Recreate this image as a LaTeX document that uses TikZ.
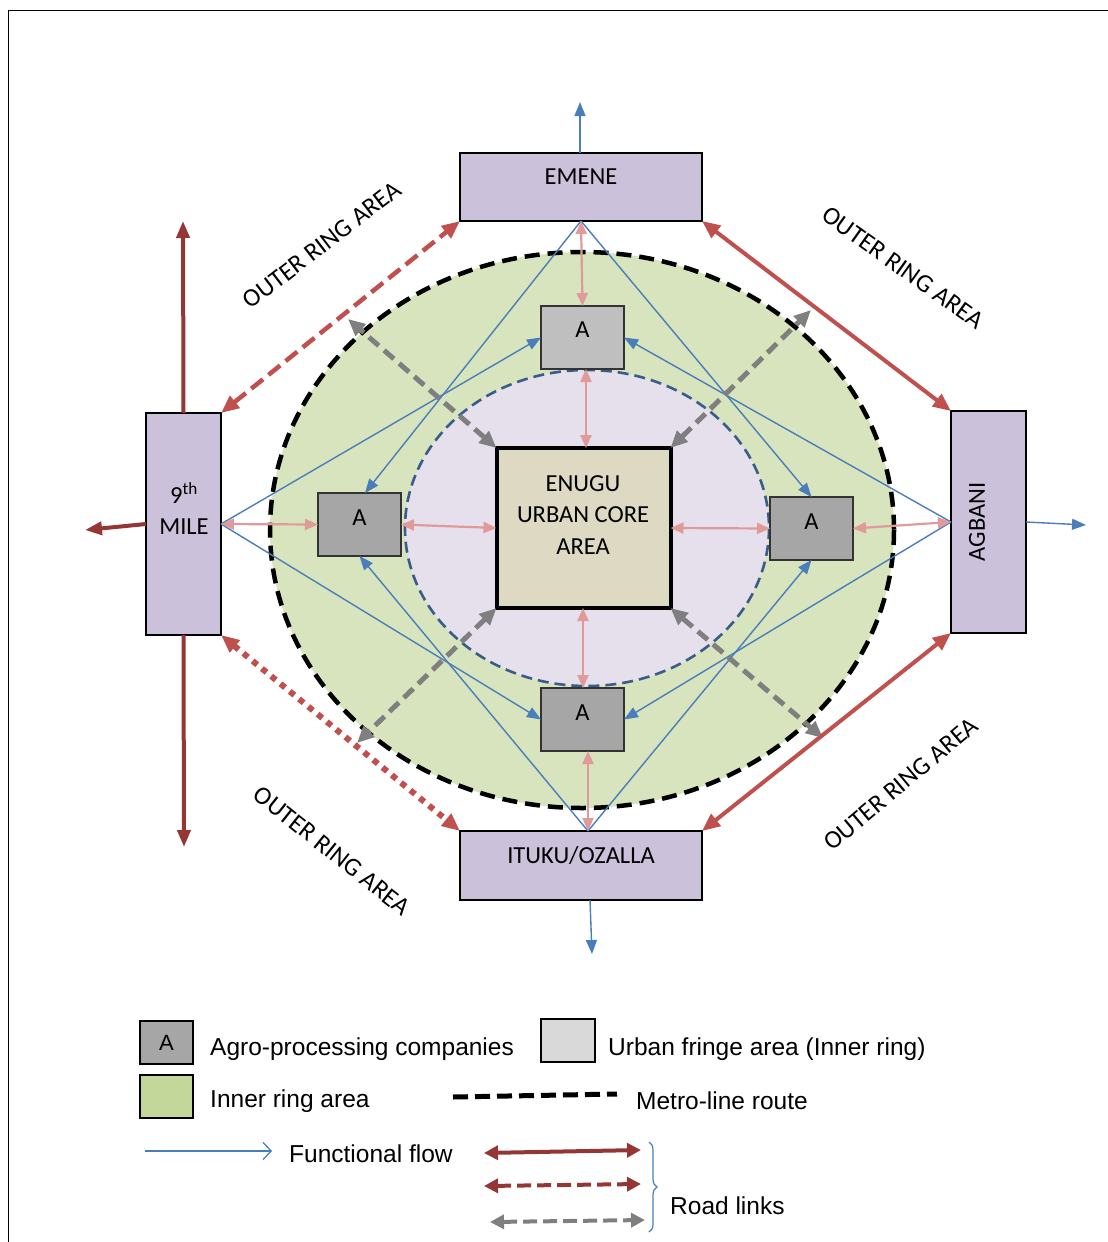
\documentclass[tikz,border=0pt]{standalone}
\usepackage{fontspec}
\setmainfont{Carlito}
\newfontfamily\legfont{Liberation Sans}
\usetikzlibrary{arrows.meta,decorations.pathreplacing}
\definecolor{lav}{HTML}{CCC1DA}
\definecolor{ringgreen}{HTML}{D7E4BD}
\definecolor{innerlav}{HTML}{E6E0EC}
\definecolor{corefill}{HTML}{DDD9C3}
\definecolor{flowblue}{HTML}{4A7EBB}
\definecolor{pinkar}{HTML}{E09A9A}
\definecolor{roadred}{HTML}{C0504D}
\definecolor{darkred}{HTML}{943634}
\definecolor{grayar}{HTML}{7F7F7F}
\definecolor{dashblue}{HTML}{385D8A}
\definecolor{agro}{HTML}{A6A6A6}
\definecolor{fringe}{HTML}{BFBFBF}
\definecolor{legfringe}{HTML}{D9D9D9}
\definecolor{leggreen}{HTML}{C4D79B}
\begin{document}
\begin{tikzpicture}[x=1pt,y=-1pt,
  place/.style={draw=black,line width=1.6pt,fill=lav,inner sep=0pt,outer sep=0pt},
  abox/.style={draw=black!80,line width=1.2pt,fill=agro,minimum width=83pt,minimum height=63pt,inner sep=0pt,outer sep=0pt},
  lbl/.style={font=\fontsize{24.5}{28}\selectfont,inner sep=0pt},
  ring/.style={font=\fontsize{25.5}{28}\selectfont,inner sep=0pt},
  leg/.style={font=\legfont\fontsize{24.5}{28}\selectfont,anchor=west,inner sep=0pt},
  flow/.style={draw=flowblue,line width=1.4pt,-{Triangle[length=14pt,width=11pt]}},
  pink/.style={draw=pinkar,line width=2.2pt,{Triangle[length=13pt,width=11pt]}-{Triangle[length=13pt,width=11pt]}},
  road/.style={draw=roadred,line width=4pt,{Triangle[length=18pt,width=15pt]}-{Triangle[length=18pt,width=15pt]}},
  darkroad/.style={draw=darkred,line width=4pt,-{Triangle[length=17pt,width=13pt]}},
  grayroad/.style={draw=grayar,line width=5pt,dash pattern=on 13pt off 7pt,{Triangle[length=17pt,width=15pt]}-{Triangle[length=17pt,width=15pt]}}
]
\useasboundingbox (0,0) rectangle (1108,1242);
% frame
\draw[line width=1pt] (8,1242) -- (8,10) -- (1108,10);

% rings
\fill[ringgreen] (582,530) ellipse [x radius=312, y radius=278];
\draw[line width=4.5pt,dash pattern=on 15pt off 8pt] (582,530) ellipse [x radius=312, y radius=278];
\fill[innerlav] (587,528) ellipse [x radius=182, y radius=158];
\draw[dashblue,line width=2.6pt,dash pattern=on 11pt off 6pt] (587,528) ellipse [x radius=182, y radius=158];

% outer places
\node[place,minimum width=242pt,minimum height=68pt] (emene) at (581,187) {};
\node[lbl] (emenet) at (581,177) {EMENE};
\node[place,minimum width=75pt,minimum height=222pt] (mile) at (183.5,524) {};
\node[lbl] (milea) at (184,493) {9\textsuperscript{th}};
\node[lbl] (mileb) at (184,527) {MILE};
\node[place,minimum width=75pt,minimum height=222pt] (agbani) at (988.5,522) {};
\node[lbl,rotate=90] (agbanit) at (977,522) {AGBANI};
\node[place,minimum width=242pt,minimum height=69pt] (ituku) at (581,865.5) {};
\node[lbl] (itukut) at (581,856) {ITUKU/OZALLA};

% core
\node[draw=black,line width=4pt,fill=corefill,minimum width=174pt,minimum height=160pt,inner sep=0pt,outer sep=0pt] (core) at (583.5,528) {};
\node[lbl,align=center,font=\fontsize{24.5}{31.5}\selectfont] (coret) at (583,515) {ENUGU\\URBAN CORE\\AREA};

% agro boxes
\node[abox,fill=fringe] (atop) at (582.5,337.5) {};
\node[lbl] (atopt) at (582.5,330) {A};
\node[abox] (aleft) at (359.5,524.5) {};
\node[lbl] (aleftt) at (359.5,518) {A};
\node[abox] (aright) at (811.5,528.5) {};
\node[lbl] (arightt) at (811.5,522) {A};
\node[abox] (abot) at (582.5,719.5) {};
\node[lbl] (abott) at (582.5,713) {A};

% functional flows (blue)
\draw[flow] (emene.south) -- (aleft.north -| 365,0);
\draw[flow] (emene.south) -- (aright.north);
\draw[flow] (mile.east) -- (atop.west);
\draw[flow] (mile.east) -- (abot.west);
\draw[flow] (agbani.west) -- (atop.east);
\draw[flow] (agbani.west) -- (abot.east);
\draw[flow] (ituku.north -| 588,0) -- (aleft.south);
\draw[flow] (ituku.north -| 588,0) -- (aright.south);
\coordinate (eup) at (580,102);
\coordinate (aright2) at (1086,525);
\coordinate (idown) at (592,954);
\draw[flow] (emene.north -| 580,0) -- (eup);
\draw[flow] (agbani.east) -- (aright2);
\draw[flow] (ituku.south -| 590,0) -- (idown);

% pink links
\draw[pink] (emene.south) -- (atop.north);
\draw[pink] (atop.south -| 586,0) -- (core.north -| 586,0);
\draw[pink] (mile.east) -- (aleft.west);
\draw[pink] (aleft.east) -- (core.west);
\draw[pink] (core.east) -- (aright.west);
\draw[pink] (aright.east) -- (agbani.west);
\draw[pink] (core.south -| 583,0) -- (abot.north -| 583,0);
\draw[pink] (abot.south -| 588,0) -- (ituku.north -| 588,0);

% gray dashed road links
\coordinate (g1) at (348,319);
\coordinate (g2) at (811,310);
\coordinate (g3) at (357,743);
\coordinate (g4) at (823,738);
\draw[grayroad] (core.north west) -- (g1);
\draw[grayroad] (core.north east) -- (g2);
\draw[grayroad] (core.south west) -- (g3);
\draw[grayroad] (core.south east) -- (g4);

% outer road links
\draw[road,line width=4.5pt,dash pattern=on 15pt off 7pt] (mile.north east) -- (emene.south west);
\draw[road] (emene.south east) -- (agbani.north west);
\draw[road] (ituku.north east) -- (agbani.south west);
\draw[road,line width=6pt,dash pattern=on 6pt off 6pt] (mile.south east) -- (ituku.north west);

% 9th mile roads
\coordinate (mup) at (183,221);
\coordinate (mdown) at (184,847);
\coordinate (mleft) at (85,530);
\draw[darkroad] (mile.north) -- (mup);
\draw[darkroad] (mile.south) -- (mdown);
\draw[darkroad] (mile.west) -- (mleft);

% outer ring labels
\node[ring,rotate=37.5] (or1) at (322,245) {OUTER RING AREA};
\node[ring,rotate=-35.5] (or2) at (903,268) {OUTER RING AREA};
\node[ring,rotate=40] (or3) at (901,784) {OUTER RING AREA};
\node[ring,rotate=-38.5] (or4) at (332,851) {OUTER RING AREA};

% legend
\node[draw=black,line width=1.4pt,fill=agro,minimum width=53pt,minimum height=43pt,inner sep=0pt,font=\legfont\fontsize{22}{26}\selectfont] (lA) at (166.5,1042.5) {A};
\node[leg] (lAt) at (210,1049) {Agro-processing companies};
\node[draw=black,line width=1.4pt,fill=legfringe,minimum width=54pt,minimum height=43pt,inner sep=0pt] (lF) at (568,1040.5) {};
\node[leg] (lFt) at (608,1049) {Urban fringe area (Inner ring)};
\node[draw=black,line width=1.4pt,fill=leggreen,minimum width=53pt,minimum height=43pt,inner sep=0pt] (lG) at (166.5,1096.5) {};
\node[leg] (lGt) at (210,1101) {Inner ring area};
\coordinate (m1) at (453,1097);
\coordinate (m2) at (617,1094);
\draw[line width=5pt,dash pattern=on 15pt off 7pt] (m1) -- (m2);
\node[leg] (lMt) at (636,1101) {Metro-line route};
\coordinate (f1) at (145,1151);
\coordinate (f2) at (272,1151);
\draw[flowblue,line width=1.3pt,-{Straight Barb[length=8pt,width=17pt]}] (f1) -- (f2);
\node[leg] (lFf) at (289,1154) {Functional flow};
\coordinate (r1a) at (484,1153);
\coordinate (r1b) at (641,1150);
\coordinate (r2a) at (484,1186);
\coordinate (r2b) at (641,1184);
\coordinate (r3a) at (490,1222);
\coordinate (r3b) at (645,1220);
\draw[draw=darkred,line width=4pt,{Triangle[length=14pt,width=14pt]}-{Triangle[length=14pt,width=14pt]}] (r1a) -- (r1b);
\draw[draw=darkred,line width=4pt,dash pattern=on 14pt off 6pt,{Triangle[length=14pt,width=14pt]}-{Triangle[length=14pt,width=14pt]}] (r2a) -- (r2b);
\draw[draw=grayar,line width=4pt,dash pattern=on 14pt off 6pt,{Triangle[length=14pt,width=14pt]}-{Triangle[length=14pt,width=14pt]}] (r3a) -- (r3b);
\coordinate (b1) at (649,1142);
\coordinate (b2) at (649,1232);
\draw[flowblue,line width=1.2pt,decorate,decoration={brace,amplitude=8pt}] (b1) -- (b2);
\node[leg] (lR) at (670,1206) {Road links};
\end{tikzpicture}
\end{document}
